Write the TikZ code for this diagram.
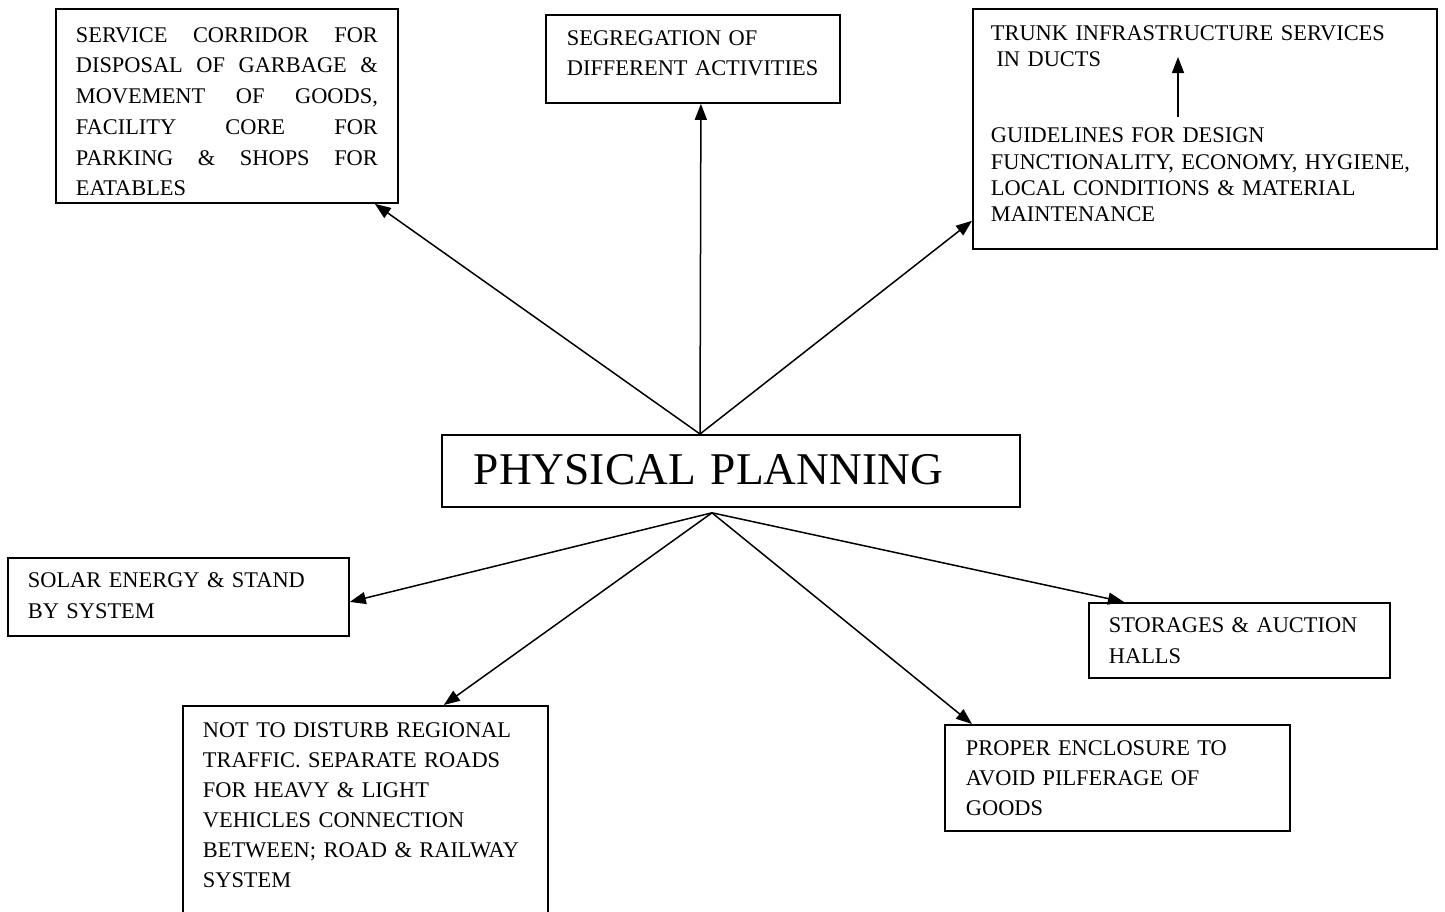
\documentclass[tikz,border=0pt]{standalone}
\usepackage{fontspec}
\setmainfont{Liberation Serif}
\usetikzlibrary{arrows.meta}

\tikzstyle{pp-box-base}=[rectangle,
                         draw=black,
                         line width=0.9pt,
                         anchor=north west,
                         inner xsep=10pt,
                         inner ysep=0pt,
                         align=left,
                         font=\fontsize{11.2}{15}\selectfont
                        ]
\tikzstyle{pp-title}=[pp-box-base,
                      inner xsep=16pt,
                      font=\fontsize{22.7}{26}\selectfont]
\tikzstyle{pp-arrow}=[-{Triangle[length=8pt,width=6pt]}, line width=0.75pt]

\begin{document}
\begin{tikzpicture}[x=0.5pt, y=-0.5pt]
    \useasboundingbox (0,0) rectangle (1445,911);

    % Boxes
    % --------------------------------------------------------------------------
    \node at (441, 434) (plan) [pp-title, text width=257pt,
                                text height=25pt, text depth=11pt] {PHYSICAL PLANNING};

    \node at (55, 8) (service_box) [pp-box-base, align=justify, text width=151pt,
                                    text height=16.65pt, text depth=80.35pt,
                                    font=\fontsize{11.2}{15.35}\selectfont]
          {SERVICE CORRIDOR FOR\linebreak
           DISPOSAL OF GARBAGE \&\linebreak
           MOVEMENT OF GOODS,\linebreak
           FACILITY CORE FOR\linebreak
           PARKING \& SHOPS FOR\linebreak
           EATABLES};
    \node at (545, 14) (segregation_box) [pp-box-base, inner xsep=10.5pt, text width=126pt,
                                          text height=15.15pt, text depth=28.85pt]
          {SEGREGATION OF\\ DIFFERENT ACTIVITIES};
    \node at (972, 8) (trunk_box) [pp-box-base, inner xsep=9pt, text width=214pt,
                                   text height=15.65pt, text depth=104.35pt,
                                   font=\fontsize{11.2}{13.15}\selectfont]
          {TRUNK INFRASTRUCTURE SERVICES\\
           \hspace*{0.25em}IN DUCTS\\[25pt]
           GUIDELINES FOR DESIGN\\
           FUNCTIONALITY, ECONOMY, HYGIENE,\\
           LOCAL CONDITIONS \& MATERIAL\\
           MAINTENANCE};

    \node at (7, 557) (solar_box) [pp-box-base, text width=150.5pt,
                                   text height=14.65pt, text depth=24.35pt,
                                   font=\fontsize{11.2}{15.5}\selectfont]
          {SOLAR ENERGY \& STAND\\ BY SYSTEM};
    \node at (1088, 602) (storage_box) [pp-box-base, text width=130.5pt,
                                        text height=14.65pt, text depth=22.85pt,
                                        font=\fontsize{11.2}{15.5}\selectfont]
          {STORAGES \& AUCTION\\ HALLS};
    \node at (182, 705) (traffic_box) [pp-box-base, text width=162.5pt,
                                       text height=15.65pt, text depth=91.85pt]
          {NOT TO DISTURB REGIONAL\\
           TRAFFIC. SEPARATE ROADS\\
           FOR HEAVY \& LIGHT\\
           VEHICLES CONNECTION\\
           BETWEEN; ROAD \& RAILWAY\\
           SYSTEM};
    \node at (944, 724) (enclosure_box) [pp-box-base, inner xsep=10.5pt, text width=151.5pt,
                                         text height=15.15pt, text depth=37.85pt]
          {PROPER ENCLOSURE TO\\ AVOID PILFERAGE OF\\ GOODS};

    % Arrows
    % --------------------------------------------------------------------------
    \coordinate (hub_up)   at ([xshift=129.5pt]plan.north west);
    \coordinate (hub_down) at ([xshift=135.5pt, yshift=-2.5pt]plan.south west);
    \coordinate (duct_from) at ([xshift=103pt, yshift=-54.5pt]trunk_box.north west);
    \coordinate (duct_to)   at ([xshift=103pt, yshift=-24.5pt]trunk_box.north west);

    \draw[pp-arrow] (hub_up) -- ([xshift=-12pt]service_box.south east);
    \draw[pp-arrow] (hub_up) -- ([xshift=4pt]segregation_box.south);
    \draw[pp-arrow] (hub_up) -- ([yshift=14.5pt]trunk_box.south west);
    \draw[pp-arrow] (duct_from) -- (duct_to);

    \draw[pp-arrow] (hub_down) -- ([yshift=-2.5pt]solar_box.east);
    \draw[pp-arrow] (hub_down) -- ([xshift=-52.5pt]traffic_box.north east);
    \draw[pp-arrow] (hub_down) -- ([xshift=14pt]enclosure_box.north west);
    \draw[pp-arrow] (hub_down) -- ([xshift=18pt]storage_box.north west);
\end{tikzpicture}
\end{document}
